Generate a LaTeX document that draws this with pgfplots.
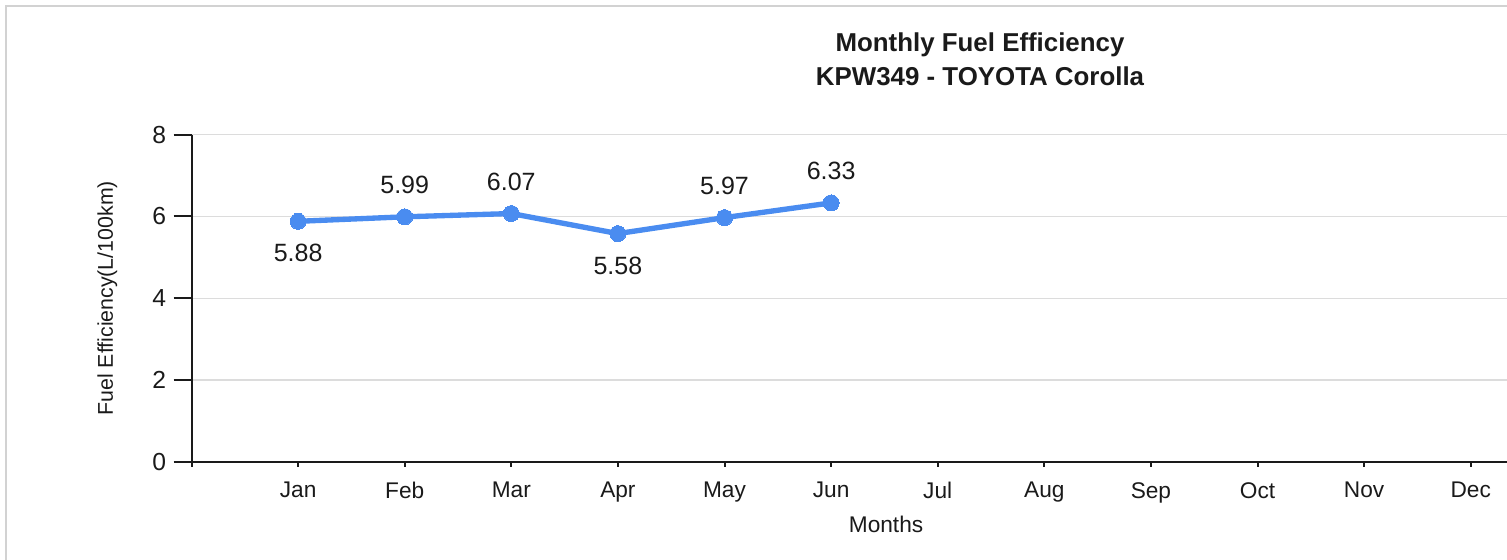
\documentclass[border=0pt]{standalone}
\usepackage{fontspec}
\setmainfont{Liberation Sans}
\usepackage{pgfplots}
\pgfplotsset{compat=1.18}
\definecolor{lineblue}{HTML}{4A8CF0}
\definecolor{gridgray}{HTML}{DCDCDC}
\definecolor{framegray}{HTML}{D2D2D2}
\definecolor{txt}{HTML}{1A1A1A}
\pgfplotsset{
  frameset/.style={
    at={(143.625pt,73.5pt)}, anchor=south west,
    scale only axis, width=986.6pt, height=245.6pt,
    xmin=0, xmax=12.34, ymin=0, ymax=8,
    axis line style={txt, line width=1.5pt, -},
    tick align=outside,
    tick style={txt, line width=1.5pt},
    /pgf/number format/assume math mode=true,
    clip=false,
  }
}
\begin{document}
\begin{tikzpicture}[x=0.75pt,y=0.75pt]
\useasboundingbox (0,0) rectangle (1507,560);
\draw[framegray, line width=1.5pt] (6,-5) -- (6,554) -- (1512,554);
\node[anchor=base, font=\bfseries\fontsize{19.4}{23}\selectfont, text=txt] at (980,508) {Monthly Fuel Efficiency};
\node[anchor=base, font=\bfseries\fontsize{19.4}{23}\selectfont, text=txt] at (980,474) {KPW349 - TOYOTA Corolla};
% x axis with short ticks
\begin{axis}[
  frameset,
  major tick length=3.75pt,
  axis x line*=bottom, hide y axis,
  xtick={0,1,...,12},
  xticklabels={,Jan,Feb,Mar,Apr,May,Jun,Jul,Aug,Sep,Oct,Nov,Dec},
  xticklabel style={font=\fontsize{17}{20}\selectfont, text=txt, yshift=-8pt},
  xlabel={Months},
  xlabel style={font=\fontsize{17}{20}\selectfont, text=txt, at={(rel axis cs:0.528,-0.192)}, anchor=center},
]
\end{axis}
% main axis with y ticks and data
\begin{axis}[
  frameset,
  major tick length=13.5pt,
  axis x line*=bottom, axis y line*=left,
  xtick=\empty,
  ytick={0,2,4,6,8},
  ymajorgrids, grid style={gridgray, line width=1pt},
  yticklabel style={font=\fontsize{18.5}{21}\selectfont, text=txt, xshift=-2pt},
  ylabel={Fuel Efficiency(L/100km)},
  ylabel style={font=\fontsize{16}{19}\selectfont, text=txt, at={(rel axis cs:-0.064,0.5)}, anchor=center, rotate=0},
]
\addplot[lineblue, line width=4pt, mark=*, mark size=6pt, mark options={solid, fill=lineblue, draw=lineblue, line width=0pt}]
  coordinates {(1,5.88) (2,5.99) (3,6.07) (4,5.58) (5,5.97) (6,6.33)};
% labels above
\addplot[draw=none, mark=none, point meta=explicit symbolic,
  nodes near coords, nodes near coords style={anchor=center, yshift=24pt, font=\fontsize{18.75}{22}\selectfont, text=txt}]
  coordinates {(2,5.99) [5.99] (3,6.07) [6.07] (5,5.97) [5.97] (6,6.33) [6.33]};
% labels below
\addplot[draw=none, mark=none, point meta=explicit symbolic,
  nodes near coords, nodes near coords style={anchor=center, yshift=-24pt, font=\fontsize{18.75}{22}\selectfont, text=txt}]
  coordinates {(1,5.88) [5.88] (4,5.58) [5.58]};
\end{axis}
\end{tikzpicture}
\end{document}
